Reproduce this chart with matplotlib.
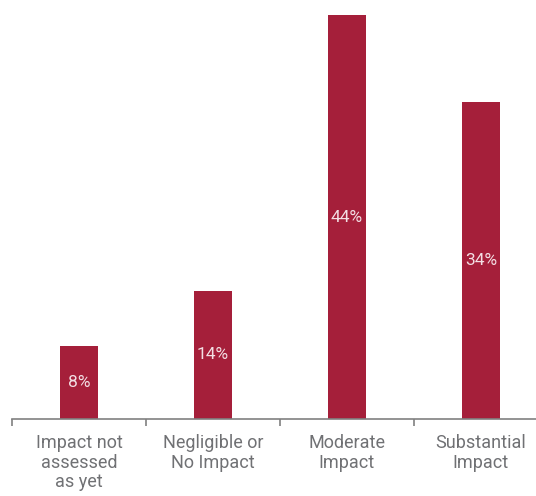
import matplotlib.pyplot as plt
from matplotlib import font_manager

categories = ["Impact not\nassessed\nas yet", "Negligible or\nNo Impact", "Moderate\nImpact", "Substantial\nImpact"]
values = [8, 14, 44, 34.5]
value_labels = ["8%", "14%", "44%", "34%"]

names = {f.name for f in font_manager.fontManager.ttflist}
family = "Liberation Sans Narrow" if "Liberation Sans Narrow" in names else "Roboto"
plt.rcParams['font.family'] = [family, 'DejaVu Sans']

W, H = 536, 496
fig = plt.figure(figsize=(W / 100, H / 100), dpi=100)
left, right = 12 / W, 548 / W
bottom, top = (H - 419) / H, (H - 6) / H
ax = fig.add_axes([left, bottom, right - left, top - bottom])

bar_color = '#a51f3a'
grey = '#808080'
text_grey = '#707174'

x = list(range(len(categories)))
bars = ax.bar(x, values, width=0.284, color=bar_color)
for rect, lab in zip(bars, value_labels):
    ax.text(rect.get_x() + rect.get_width() / 2, rect.get_height() / 2, lab,
            ha='center', va='center', color='#f3dfe4', fontsize=12.5)

ax.set_xlim(-0.5, 3.5)
ax.set_ylim(0, 45)

for s in ['top', 'right', 'left']:
    ax.spines[s].set_visible(False)
ax.spines['bottom'].set_color(grey)
ax.spines['bottom'].set_linewidth(1.2)
ax.set_yticks([])

ax.set_xticks([-0.5, 0.5, 1.5, 2.5, 3.5])
ax.set_xticklabels([])
ax.tick_params(axis='x', which='major', length=5, width=1.2, color=grey, direction='out')
ax.set_xticks(x, minor=True)
ax.set_xticklabels(categories, minor=True, color=text_grey, fontsize=13,
                   linespacing=1.1)
ax.tick_params(axis='x', which='minor', length=0, pad=11)

fig.savefig('out.png', dpi=100)
